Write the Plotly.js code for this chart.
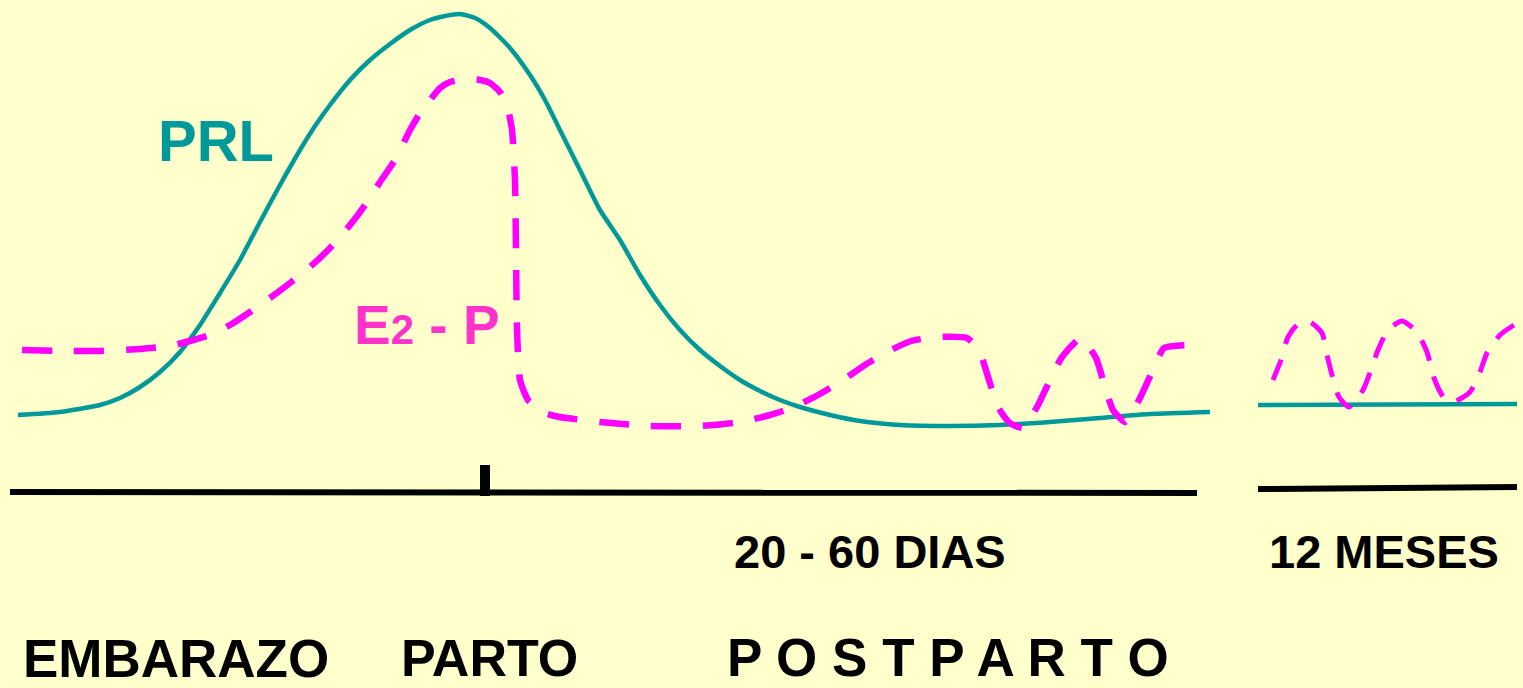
<!DOCTYPE html>
<html>
<head>
<meta charset="utf-8">
<script src="https://cdn.plot.ly/plotly-3.0.1.min.js"></script>
<style>
html,body{margin:0;padding:0;background:#FFFFCC;}
#chart{width:1523px;height:688px;}
</style>
</head>
<body>
<div id="chart"></div>
<script>
// Schematic hormone levels (x = time position, y = level position, top-down)
const prlX = [18,60,100,120,140,160,180,200,220,240,260,280,300,315,330,350,370,390,410,430,445,460,475,490,510,530,545,560,580,600,620,640,660,680,700,720,740,760,780,800,830,860,900,950,1000,1050,1100,1150,1210];
const prlY = [415,412,405,398,387,372,352,325,293,260,222,185,150,126,105,80,60,44,30,20,16,14,18,28,48,75,100,130,170,210,240,275,305,330,350,366,380,391,400,407,415,421,425,426,425,422,418,414,412];
const prl2X = [1258,1517];
const prl2Y = [405,404];

const e2pX = [22,60,100,140,170,190,210,230,250,270,290,310,330,350,365,380,395,410,420,430,440,450,465,480,490,500,507,512,515,516,517,520,528,545,560,600,650,700,740,770,794,818,840,865,887,911,938,967,979,989,998,1010,1023,1037,1050,1062,1081,1096,1105,1113,1125,1140,1152,1164,1188];
const e2pY = [350,351,351,349,346,341,335,325,312,298,283,267,248,225,205,182,160,130,113,100,88,82,79,80,83,92,105,130,180,250,330,380,400,413,417,422,426,426,422,415,407,395,382,365,352,341,337,338,350,380,407,423,428,407,380,357,338,358,387,410,422,398,372,348,345];
const e2p2X = [1273,1281,1288,1298,1310,1322,1327,1332,1339,1349,1363,1371,1378,1388,1402,1417,1427,1434,1444,1453,1470,1480,1487,1500,1514];
const e2p2Y = [380,360,337,324,322,333,355,375,397,407,390,370,350,330,321,332,352,378,398,402,392,372,353,335,325];

const axis1X = [10,1197], axis1Y = [492,493];
const axis2X = [1258,1517], axis2Y = [489,487];
const tickX = [485,485], tickY = [465,496];

const labels = [
  {text:'PRL', x:157, y:140, size:58, color:'#009999'},
  {text:'E2 - P', x:353, y:325, size:55, color:'#FF33CC', sub:true},
  {text:'20 - 60 DIAS', x:733, y:551, size:47, color:'#000000'},
  {text:'12 MESES', x:1268, y:551, size:47, color:'#000000'},
  {text:'EMBARAZO', x:22, y:658, size:53, color:'#000000'},
  {text:'PARTO', x:400, y:658, size:52, color:'#000000'},
  {text:'P O S T P A R T O', x:726, y:657, size:53, color:'#000000'}
];

const teal = '#009999', mag = '#FF00FF';
const traces = [
  {x:prlX, y:prlY, mode:'lines', line:{color:teal, width:4.5, shape:'spline', smoothing:0.6}, hoverinfo:'skip'},
  {x:prl2X, y:prl2Y, mode:'lines', line:{color:teal, width:4.5}, hoverinfo:'skip'},
  {x:e2pX, y:e2pY, mode:'lines', line:{color:mag, width:6.5, shape:'spline', smoothing:0.5, dash:'30px,22px'}, hoverinfo:'skip'},
  {x:e2p2X, y:e2p2Y, mode:'lines', line:{color:mag, width:5, shape:'spline', smoothing:0.6, dash:'22px,16px'}, hoverinfo:'skip'},
  {x:axis1X, y:axis1Y, mode:'lines', line:{color:'#000000', width:6}, hoverinfo:'skip'},
  {x:axis2X, y:axis2Y, mode:'lines', line:{color:'#000000', width:6}, hoverinfo:'skip'},
  {x:tickX, y:tickY, mode:'lines', line:{color:'#000000', width:10}, hoverinfo:'skip'}
];

const annotations = labels.map(l => ({
  x:l.x, y:l.y, xref:'x', yref:'y', xanchor:'left', yanchor:'middle', showarrow:false,
  text: l.sub ? 'E<span style="font-size:42px">2</span> - P' : l.text,
  font:{family:'Liberation Sans, Arial, sans-serif', size:l.size, color:l.color, weight:'bold'},
  borderpad:0
}));

const layout = {
  width:1523, height:688,
  margin:{l:0,r:0,t:0,b:0,pad:0},
  paper_bgcolor:'#FFFFCC', plot_bgcolor:'#FFFFCC',
  showlegend:false,
  xaxis:{range:[0,1523], visible:false, fixedrange:true},
  yaxis:{range:[688,0], visible:false, fixedrange:true},
  annotations:annotations
};

Plotly.newPlot('chart', traces, layout, {staticPlot:true, displayModeBar:false});
</script>
</body>
</html>
